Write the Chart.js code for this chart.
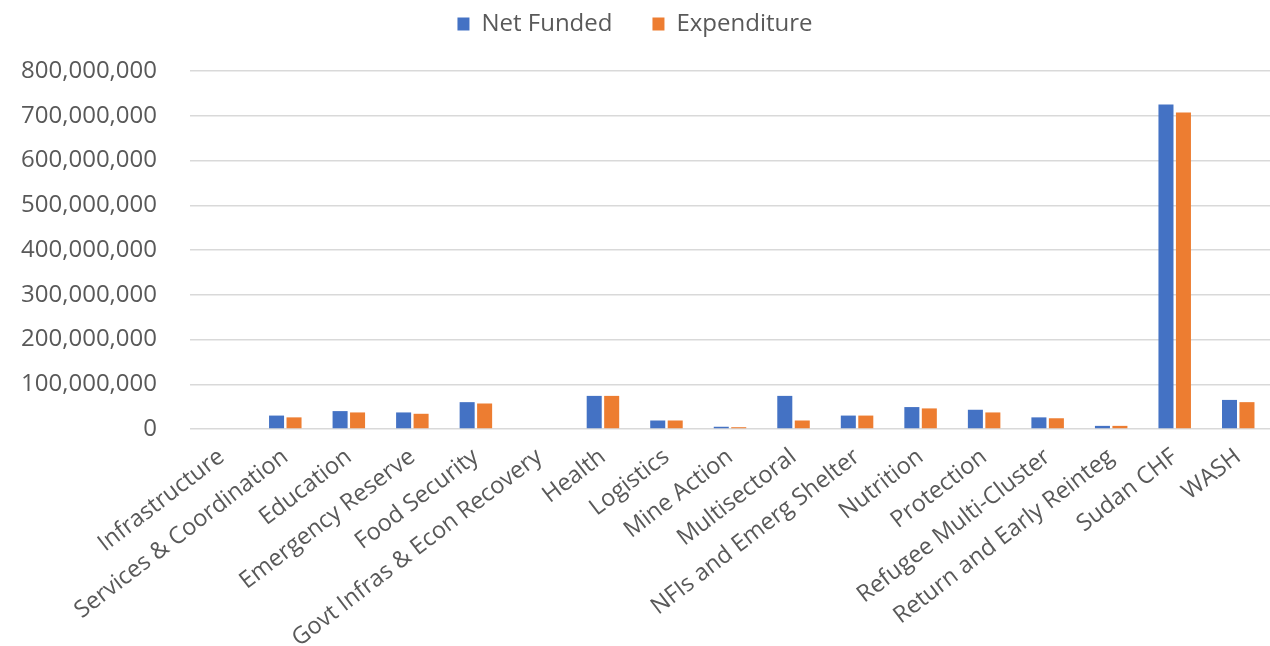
<!DOCTYPE html>
<html>
<head>
<meta charset="utf-8">
<script src="https://cdn.jsdelivr.net/npm/chart.js"></script>
<style>
  html, body { margin: 0; padding: 0; background: #fff; }
  #wrap { width: 1270px; height: 646px; position: relative; }
</style>
</head>
<body>
<div id="wrap"><canvas id="chart"></canvas></div>
<script>
// values
const categories = [
    "Infrastructure", "Services & Coordination", "Education", "Emergency Reserve",
    "Food Security", "Govt Infras & Econ Recovery", "Health", "Logistics",
    "Mine Action", "Multisectoral", "NFIs and Emerg Shelter", "Nutrition",
    "Protection", "Refugee Multi-Cluster", "Return and Early Reinteg", "Sudan CHF", "WASH"
];
const netFunded = [0, 30000000, 40000000, 37000000, 60000000, 0, 74000000, 19000000,
    5000000, 74000000, 30000000, 49000000, 43000000, 26000000, 7000000, 725000000, 65000000];
const expenditure = [0, 26000000, 37000000, 34000000, 57000000, 0, 74000000, 19000000,
    4000000, 19000000, 30000000, 46000000, 37000000, 24000000, 7000000, 707000000, 60000000];
const yMax = 800000000;
const yStep = 100000000;

const textColor = "#595959";
const fontFamily = "'Open Sans', 'Noto Sans', sans-serif";

// legend height is set by hand so the plot starts where the reference does
const legendHeight = {
    id: "legendHeight",
    afterInit(chart) {
        const legend = chart.legend;
        const fit = legend.fit;
        legend.fit = function () {
            fit.call(this);
            this.height = 99;
        };
    }
};

const ctx = document.getElementById("chart").getContext("2d");
new Chart(ctx, {
    type: "bar",
    data: {
        labels: categories,
        datasets: [
            {
                label: "Net Funded",
                data: netFunded,
                backgroundColor: "#4472C4",
                borderWidth: 0,
            },
            {
                label: "Expenditure",
                data: expenditure,
                backgroundColor: "#ED7D31",
                borderWidth: 0,
            }
        ]
    },
    plugins: [legendHeight],
    options: {
        responsive: true,
        maintainAspectRatio: false,
        animation: false,
        layout: { padding: { top: -28, right: 0, bottom: 0, left: 0 } },
        datasets: {
            bar: { categoryPercentage: 0.55, barPercentage: 0.86 }
        },
        plugins: {
            tooltip: { enabled: false },
            legend: {
                position: "top",
                labels: {
                    color: textColor,
                    font: { family: fontFamily, size: 24 },
                    boxWidth: 12,
                    boxHeight: 13,
                    padding: 40,
                }
            }
        },
        scales: {
            x: {
                grid: { display: false, drawTicks: false },
                border: { display: false },
                ticks: {
                    color: textColor,
                    font: { family: fontFamily, size: 23.5 },
                    autoSkip: false,
                    minRotation: 37.5,
                    maxRotation: 37.5,
                    padding: 14,
                },
                afterFit: (scale) => { scale.height = 217; }
            },
            y: {
                min: 0,
                max: yMax,
                grid: { color: "#d9d9d9", lineWidth: 1.5, drawTicks: false },
                border: { display: false },
                ticks: {
                    stepSize: yStep,
                    color: textColor,
                    font: { family: fontFamily, size: 24 },
                    padding: 33,
                    callback: (v) => v.toLocaleString("en-US"),
                },
                afterFit: (scale) => { scale.width = 190; }
            }
        }
    }
});
</script>
</body>
</html>
